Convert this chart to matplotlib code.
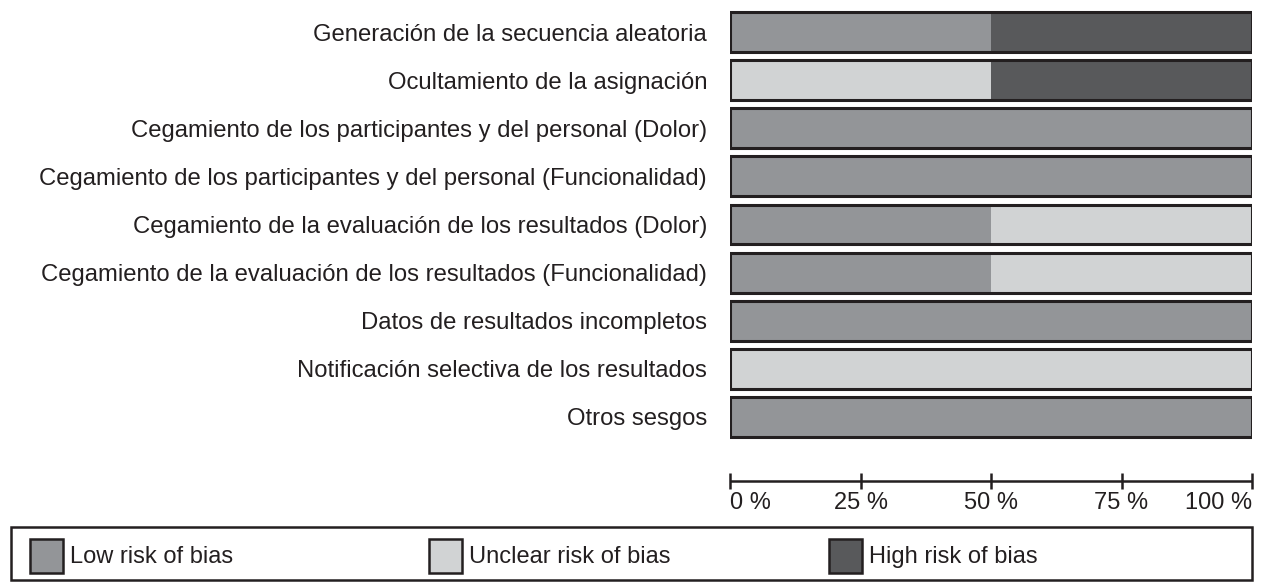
import numpy as np
import matplotlib.pyplot as plt
from matplotlib.patches import Rectangle

plt.rcParams['font.family'] = ['Liberation Sans', 'DejaVu Sans']

# Risk of bias summary (percent of studies)
domains = [
    "Generación de la secuencia aleatoria",
    "Ocultamiento de la asignación",
    "Cegamiento de los participantes y del personal (Dolor)",
    "Cegamiento de los participantes y del personal (Funcionalidad)",
    "Cegamiento de la evaluación de los resultados (Dolor)",
    "Cegamiento de la evaluación de los resultados (Funcionalidad)",
    "Datos de resultados incompletos",
    "Notificación selectiva de los resultados",
    "Otros sesgos",
]
low = [50, 0, 100, 100, 50, 50, 100, 0, 100]
unclear = [0, 50, 0, 0, 50, 50, 0, 100, 0]
high = [50, 50, 0, 0, 0, 0, 0, 0, 0]

legend_labels = ["Low risk of bias", "Unclear risk of bias", "High risk of bias"]
colors = ["#939598", "#d1d3d4", "#58595b"]
edge = "#231f20"
fs = 17

W, H = 1262, 583
fig = plt.figure(figsize=(W / 100, H / 100), dpi=100)

# main axes (pixel placement)
ax = fig.add_axes([730 / W, 1 - 441 / H, 522 / W, 433 / H])
y = np.arange(len(domains))
low = np.array(low)
unclear = np.array(unclear)
high = np.array(high)

ax.barh(y, low, height=0.83, color=colors[0], linewidth=0)
ax.barh(y, unclear, left=low, height=0.83, color=colors[1], linewidth=0)
ax.barh(y, high, left=low + unclear, height=0.83, color=colors[2], linewidth=0)
ax.barh(y, low + unclear + high, height=0.83, fill=False, edgecolor=edge, linewidth=2.2)

ax.set_ylim(len(domains) - 0.5, -0.5)
ax.set_xlim(0, 100)
ax.set_yticks(y)
ax.set_yticklabels(domains, fontsize=17.2, color=edge)
ax.tick_params(axis='y', length=0, pad=16.5)

for s in ['top', 'right', 'left']:
    ax.spines[s].set_visible(False)
ax.spines['bottom'].set_position(('outward', 29))
ax.spines['bottom'].set_linewidth(1.8)
ax.spines['bottom'].set_color(edge)
ax.spines['bottom'].set_capstyle('butt')
ax.set_xticks([0, 25, 50, 75, 100])
ax.set_xticklabels(["0 %", "25 %", "50 %", "75 %", "100 %"], fontsize=fs, color=edge)
ax.tick_params(axis='x', direction='inout', length=11.5, width=1.8, color=edge, pad=2)
tl = ax.get_xticklabels()
tl[0].set_ha('left')
tl[-1].set_ha('right')

# legend box
lax = fig.add_axes([0, 0, 1, 1], zorder=-1)
lax.set_xlim(0, W)
lax.set_ylim(H, 0)
lax.axis('off')
lax.add_patch(Rectangle((11, 527), 1241, 53, fill=False, edgecolor=edge, linewidth=1.8))
for x0, lab, c in zip([30, 429, 829], legend_labels, colors):
    lax.add_patch(Rectangle((x0, 539), 33, 34, facecolor=c, edgecolor=edge, linewidth=1.8))
    lax.text(x0 + 40, 557, lab, fontsize=fs, color=edge, va='center', ha='left')

fig.savefig("out.png", dpi=100)
